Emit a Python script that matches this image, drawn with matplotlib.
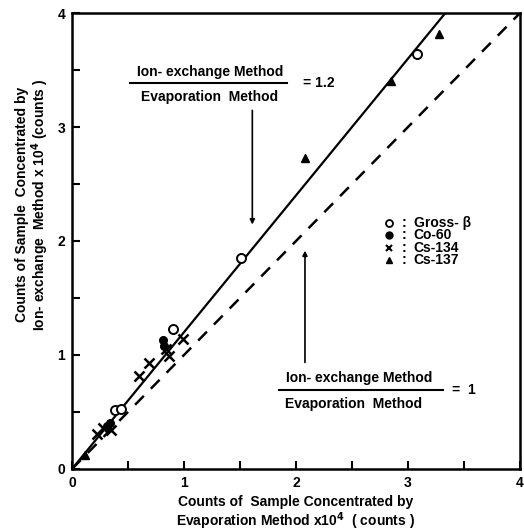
import matplotlib
matplotlib.use('Agg')
import matplotlib.pyplot as plt
import numpy as np

plt.rcParams['font.family'] = ['Liberation Sans', 'DejaVu Sans']
plt.rcParams['font.weight'] = 'bold'

# Gross-beta (open circles)
gross_x = [0.38, 0.44, 0.90, 1.51, 3.08]
gross_y = [0.52, 0.53, 1.23, 1.85, 3.64]
# Co-60 (filled dots)
co60_x = [0.31, 0.34, 0.81, 0.82]
co60_y = [0.38, 0.40, 1.13, 1.08]
# Cs-134 (crosses)
cs134_x = [0.22, 0.28, 0.35, 0.60, 0.69, 0.84, 0.87, 0.99]
cs134_y = [0.31, 0.36, 0.34, 0.82, 0.93, 1.05, 0.99, 1.14]
# Cs-137 (triangles)
cs137_x = [0.12, 2.08, 2.85, 3.28]
cs137_y = [0.12, 2.73, 3.40, 3.82]

ratio_fit = 1.2
legend_labels = ['Gross- \u03b2', 'Co-60', 'Cs-134', 'Cs-137']

fs = 10

fig = plt.figure(figsize=(5.24, 5.31), dpi=100)
ax = fig.add_axes([0.1374, 0.1168, 0.855, 0.8587])

# reference lines
ax.plot([0, 4 / ratio_fit], [0, 4], color='black', lw=1.6)
ax.plot([0, 4], [0, 4], color='black', lw=1.8, dashes=(5, 4))

ax.plot(gross_x, gross_y, 'o', mfc='white', mec='black', mew=1.4, ms=6.5)
ax.plot(co60_x, co60_y, 'o', color='black', ms=5.5)
ax.plot(cs134_x, cs134_y, 'x', color='black', mew=1.8, ms=7)
ax.plot(cs137_x, cs137_y, '^', color='black', ms=6)

ax.set_xlim(0, 4)
ax.set_ylim(0, 4)
ax.set_xticks(np.arange(0, 4.01, 0.5))
ax.set_yticks(np.arange(0, 4.01, 0.5))
ax.set_xticklabels(['0', '', '1', '', '2', '', '3', '', '4'])
ax.set_yticklabels(['0', '', '1', '', '2', '', '3', '', '4'])
ax.tick_params(direction='in', length=6, width=1.5, labelsize=fs, pad=5,
               top=False, right=False)
for s in ax.spines.values():
    s.set_linewidth(1.8)

xl = ax.set_xlabel('Counts of  Sample Concentrated by\nEvaporation Method x10$^4$  ( counts )',
                   fontsize=fs, fontweight='bold', linespacing=1.05)
xl.set_va('top')
ax.xaxis.set_label_coords(0.5, -0.058)
ax.set_ylabel('Counts of Sample  Concentrated by\nIon- exchange  Method x 10$^4$ (counts )',
              fontsize=fs, fontweight='bold', linespacing=1.05)
ax.yaxis.set_label_coords(-0.047, 0.58)

# upper ratio annotation
ax.text(1.23, 3.48, 'Ion- exchange Method', ha='center', va='center', fontsize=fs)
ax.plot([0.52, 1.92], [3.39, 3.39], color='black', lw=1.5)
ax.text(1.23, 3.26, 'Evaporation  Method', ha='center', va='center', fontsize=fs)
ax.text(2.06, 3.39, '= 1.2', ha='left', va='center', fontsize=fs)
ax.annotate('', xy=(1.61, 2.12), xytext=(1.61, 3.17),
            arrowprops=dict(arrowstyle='-|>', color='black', lw=1.2,
                            mutation_scale=7))

# lower ratio annotation
ax.text(2.56, 0.80, 'Ion- exchange Method', ha='center', va='center', fontsize=fs)
ax.plot([1.85, 3.31], [0.69, 0.69], color='black', lw=1.5)
ax.text(2.51, 0.57, 'Evaporation  Method', ha='center', va='center', fontsize=fs)
ax.text(3.39, 0.69, '=  1', ha='left', va='center', fontsize=fs)
ax.annotate('', xy=(2.08, 1.94), xytext=(2.08, 0.91),
            arrowprops=dict(arrowstyle='-|>', color='black', lw=1.2,
                            mutation_scale=7))

# hand-drawn style legend
leg_y = [2.16, 2.05, 1.94, 1.83]
ax.plot(2.83, leg_y[0], 'o', mfc='white', mec='black', mew=1.3, ms=5)
ax.plot(2.83, leg_y[1], 'o', color='black', ms=5)
ax.plot(2.83, leg_y[2], 'x', color='black', mew=1.5, ms=5)
ax.plot(2.83, leg_y[3], '^', color='black', ms=5)
for yy, lab in zip(leg_y, legend_labels):
    ax.text(2.96, yy, ':', ha='center', va='center', fontsize=fs)
    ax.text(3.05, yy, lab, ha='left', va='center', fontsize=fs)

fig.savefig('out.png', dpi=100)
